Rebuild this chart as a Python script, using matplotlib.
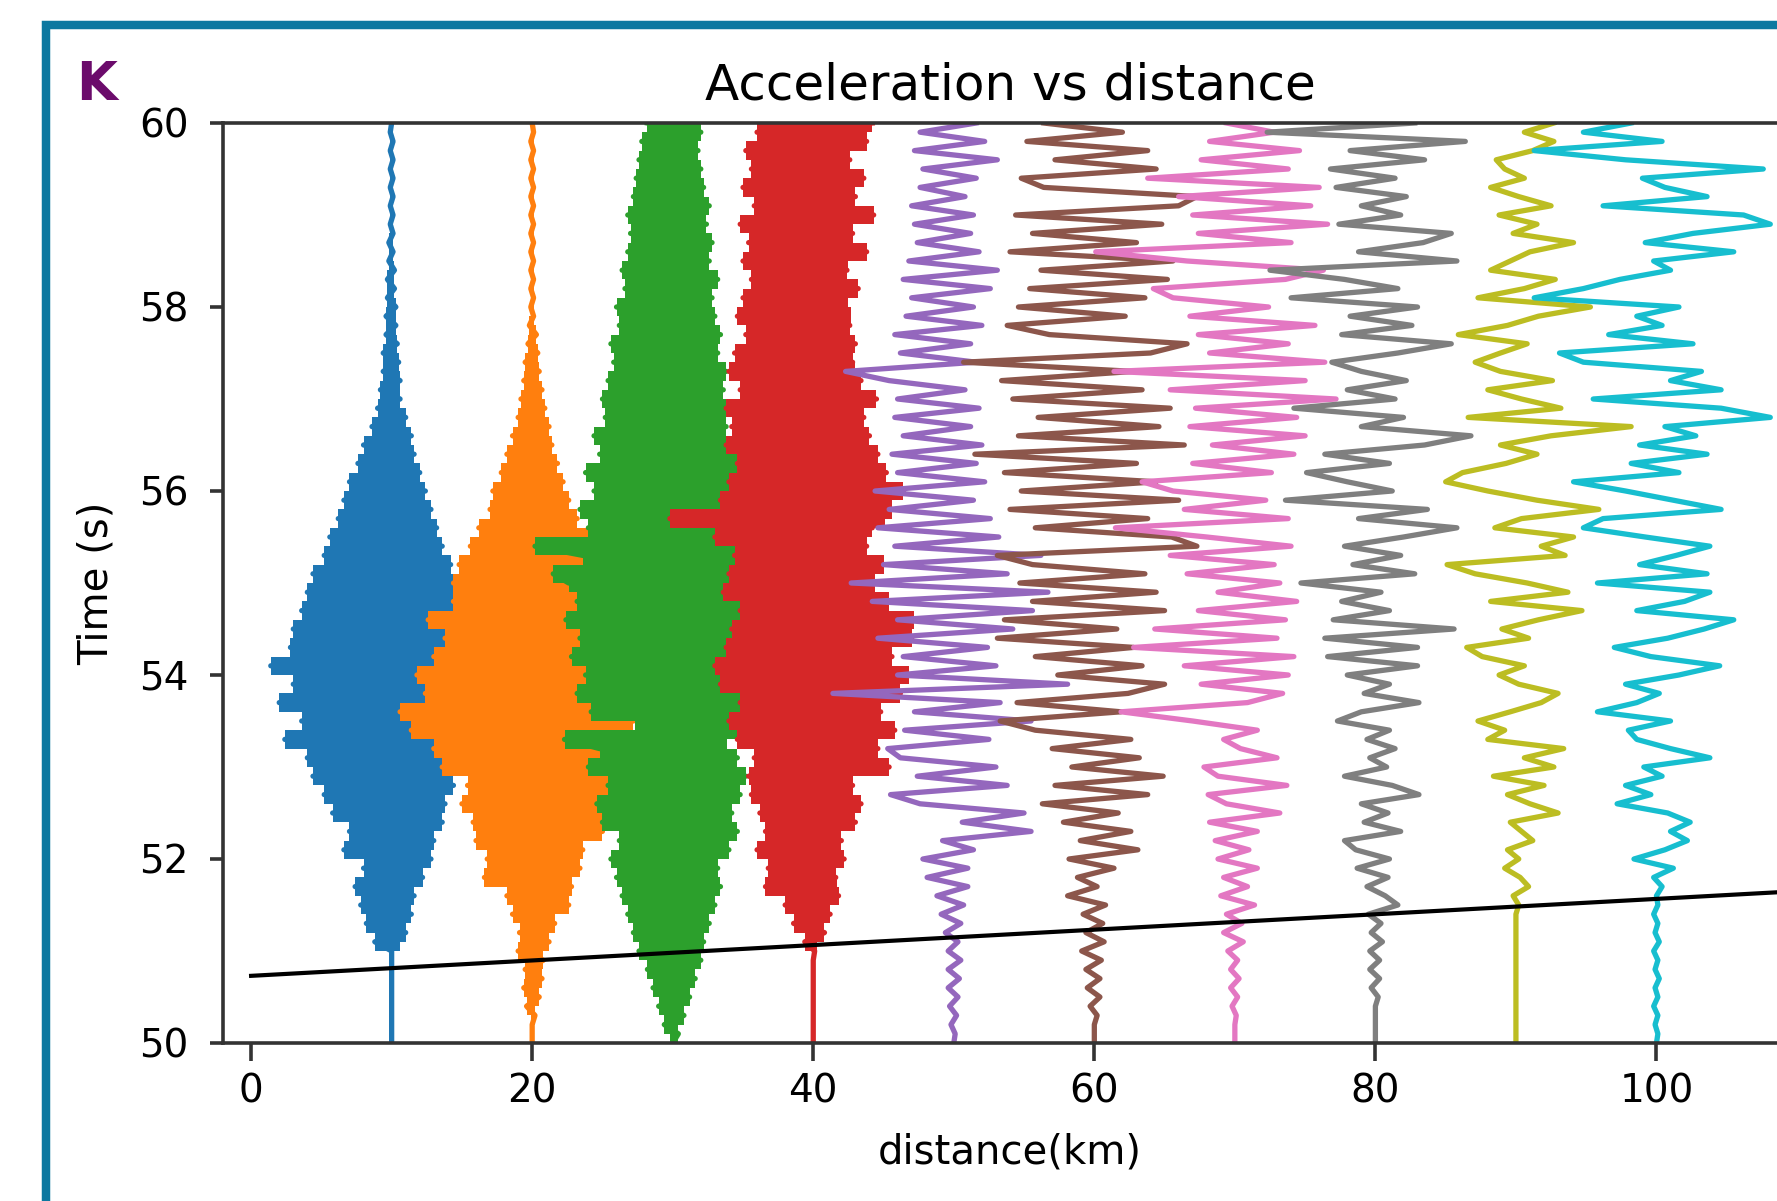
import numpy as np
import matplotlib
matplotlib.use("Agg")
import matplotlib.pyplot as plt
from matplotlib.patches import Rectangle

# station distances (km) and time axis (s), one sample every 0.1 s
distance_km = [10, 20, 30, 40, 50, 60, 70, 80, 90, 100]
time_s = np.round(50.0 + 0.1 * np.arange(101), 1)

acc_10 = [0.0, 0.0, 0.0, 0.0, 0.0, 0.0, 0.0, 0.0, 0.0, 0.0,
          0.0, -1.2, 1.0, -1.8, 1.4, -2.2, 1.6, -2.6, 2.2, -2.0,
          2.8, -3.4, 3.0, -3.0, 3.6, -4.2, 3.8, -4.8, 4.4, -5.6,
          5.2, -6.0, 5.6, -7.6, 6.0, -6.4, 7.4, -8.0, 6.6, -7.0,
          5.8, -8.6, 6.2, -7.2, 5.4, -7.0, 5.6, -6.4, 5.0, -6.0,
          5.0, -5.6, 4.2, -4.8, 3.6, -4.4, 3.2, -3.8, 2.8, -3.4,
          2.4, -3.0, 2.0, -2.4, 1.6, -2.0, 1.4, -1.4, 1.0, -1.0,
          0.6, -0.8, 0.6, -0.6, 0.5, -0.6, 0.4, -0.4, 0.3, -0.4,
          0.3, -0.3, 0.2, -0.3, 0.2, -0.2, 0.1, -0.2, 0.1, -0.1,
          0.1, -0.1, 0.1, -0.1, 0.1, -0.1, 0.1, -0.1, 0.1, -0.1, 0.0]
acc_20 = [0.0, 0.0, 0.0, 0.2, -0.4, 0.5, -0.6, 0.7, -0.5, 0.8,
          -1.0, 1.2, -0.9, 1.6, -1.4, 2.6, -1.8, 2.8, -3.4, 3.4,
          -3.2, 3.6, -4.0, 5.0, -4.2, 6.8, -5.0, 5.6, -4.6, 6.2,
          -6.4, 5.4, -7.0, 6.0, -8.6, 7.2, -9.4, 6.4, -7.6, 7.8,
          -8.2, 6.6, -7.0, 7.2, -6.2, 6.0, -7.4, 6.8, -5.6, 5.8,
          -5.6, 6.4, -5.2, 4.6, -4.4, 4.0, -3.8, 3.2, -3.0, 2.6,
          -2.8, 2.2, -2.2, 1.8, -1.8, 1.4, -1.4, 1.2, -1.0, 0.9,
          -0.8, 0.7, -0.6, 0.5, -0.5, 0.4, -0.3, 0.3, -0.2, 0.1,
          -0.1, 0.1, -0.1, 0.1, -0.1, 0.1, -0.1, 0.1, -0.1, 0.1,
          -0.1, 0.1, -0.1, 0.1, -0.1, 0.1, -0.1, 0.1, -0.1, 0.1, 0.0]
acc_30 = [0.0, 0.4, -0.6, 0.8, -1.0, 1.2, -1.4, 1.6, -1.8, 2.0,
          -2.4, 2.2, -2.8, 2.6, -3.2, 3.0, -3.6, 3.4, -4.0, 3.2,
          -4.4, 4.0, -3.8, 4.6, -5.0, 4.2, -5.4, 4.8, -4.6, 5.2,
          -6.0, 4.6, -5.2, -7.7, 5.4, 4.8, -5.8, 5.6, -6.8, 5.0,
          -6.2, 5.8, -7.2, 5.2, -6.6, 6.0, -7.6, 5.4, -6.8, 6.2,
          -7.4, -8.5, 5.0, -6.4, -9.8, 5.8, -6.0, 4.8, -6.6, 5.2,
          -5.6, 4.4, -6.2, 4.6, -5.2, 4.2, -5.6, 3.8, -4.8, 4.4,
          -5.0, 3.6, -4.6, 3.8, -4.2, 3.2, -4.4, 3.4, -3.8, 3.0,
          -4.0, 2.8, -3.4, 3.2, -3.6, 2.6, -3.2, 2.8, -3.0, 2.4,
          -3.2, 2.6, -2.8, 2.2, -2.6, 2.0, -2.4, 1.8, -2.2, 2.0, -1.8]
acc_40 = [0.0, 0.0, 0.0, 0.0, 0.0, 0.0, 0.0, 0.0, 0.0, 0.0,
          0.1, -0.6, 0.8, -1.4, 1.2, -2.0, 1.8, -3.4, 1.6, -3.2,
          2.2, -4.0, 2.0, -3.4, 3.0, -3.8, 3.4, -4.4, 2.8, -4.6,
          5.4, -4.2, 4.6, -5.4, 5.8, -6.0, 4.8, -5.2, 6.2, -6.6,
          6.8, -7.0, 5.6, -6.2, 7.0, -5.8, 7.2, -5.2, 5.4, -6.4,
          4.4, -6.0, 5.0, -5.6, 3.8, -7.0, 4.2, -10.2, 5.6, -6.6,
          6.4, -6.0, 5.2, -5.4, 4.6, -6.2, 4.0, -5.8, 3.6, -6.2,
          4.5, -5.2, 3.4, -6.0, 2.8, -5.6, 3.0, -4.8, 2.6, -5.4,
          2.0, -5.0, 3.2, -4.4, 2.4, -5.0, 3.8, -4.6, 2.8, -5.2,
          4.3, -4.2, 3.0, -5.0, 3.6, -4.4, 2.6, -4.8, 3.8, -4.0, 4.2]
acc_50 = [0.0, 0.1, -0.2, 0.2, -0.3, 0.3, -0.4, 0.4, -0.4, 0.5,
          -0.4, 0.3, -0.6, 0.5, -0.9, 0.7, -1.2, 1.0, -1.9, 1.0,
          -2.2, 1.4, -0.8, 5.5, 0.6, 5.0, -2.4, -4.5, 3.8, -2.6,
          3.0, -3.8, -4.7, 2.5, -3.5, 5.5, -2.8, 3.3, -8.6, 8.1,
          -4.0, 3.0, -3.6, 2.4, -5.4, 4.2, -4.0, 5.6, -5.8, 6.7,
          -7.3, 3.8, -5.0, 6.2, -4.2, 3.2, -5.4, 2.6, -4.6, 1.4,
          -5.6, 2.2, -4.0, 1.6, -4.4, 2.0, -3.6, 1.2, -4.2, 1.8,
          -4.0, 0.8, -4.6, -7.7, 1.6, -3.8, 1.2, -4.2, 2.0, -3.4,
          1.4, -3.0, 2.6, -3.6, 3.1, -3.2, 1.8, -2.6, 1.2, -2.8,
          1.4, -3.0, 0.8, -2.4, 1.6, -2.2, 3.1, -2.8, 2.2, -2.4, 1.6]
acc_60 = [0.0, 0.0, 0.0, 0.2, -0.3, 0.4, -0.5, 0.4, -0.6, 0.5,
          -0.9, 0.7, -0.6, 0.6, -0.8, 0.8, -1.9, 0.2, -1.2, 1.4,
          -1.8, 3.1, -1.0, 2.6, -2.2, 1.7, -3.7, 3.8, -2.8, 4.9,
          -1.6, 3.2, -3.0, 2.6, -4.2, -6.7, 1.9, -5.5, 2.4, 5.0,
          -2.6, 3.4, -4.2, 2.8, -6.9, 1.6, -6.4, 5.0, -4.4, 4.4,
          -5.3, 3.6, -4.4, -6.9, 7.3, 5.5, -4.2, 3.8, -6.0, 6.0,
          -5.2, 4.4, -6.4, 3.0, -8.5, 6.4, -5.4, 4.6, -4.0, 5.4,
          -5.8, 3.4, -6.6, 2.8, -9.3, 4.0, 6.6, -3.2, -6.2, 2.2,
          -5.4, 3.6, -4.6, 5.2, -3.8, 5.6, -6.0, 3.0, -4.4, 4.8,
          -5.6, 6.0, 7.3, -3.6, -5.2, 4.4, -2.8, 3.8, -4.8, 2.0, -3.6]
acc_70 = [0.0, 0.0, 0.0, 0.1, -0.2, 0.2, -0.3, 0.3, -0.3, 0.2,
          -0.5, 0.6, -0.8, 0.5, -0.6, 1.4, -1.0, 0.9, -0.8, 1.6,
          -1.2, 1.0, -1.4, 1.6, -1.8, 3.2, -0.6, -1.9, 3.7, -1.2,
          -2.2, 3.0, 0.4, -0.8, 1.6, -3.0, -8.1, 0.9, 3.4, -2.4,
          3.8, -3.6, 4.2, -7.2, 3.0, -5.7, 3.6, -2.6, 4.4, -1.2,
          3.2, -3.4, 2.8, -4.6, 4.0, -2.0, -8.5, 3.8, -3.6, 2.2,
          -4.4, -6.6, 2.6, -3.0, 4.2, -1.6, 5.0, -3.2, 4.4, -2.8,
          7.2, -4.6, 5.0, -8.6, 6.4, -1.8, 3.8, -2.6, 5.7, -3.2,
          2.4, -4.4, -5.8, 3.6, 6.3, -3.4, -9.9, 4.0, -2.6, 6.6,
          -3.0, 5.4, -4.0, 6.0, -6.2, 3.8, -2.4, 4.6, -1.8, 2.8, -0.6]
acc_80 = [0.0, 0.0, 0.0, 0.0, 0.0, 0.2, -0.3, 0.3, -0.4, 0.3,
          -0.4, 0.5, -0.3, 0.4, -0.5, 1.6, 0.7, -0.6, 0.9, -1.3,
          1.0, -1.4, -2.2, 1.8, -0.8, 0.9, -1.0, 3.1, 1.2, -2.2,
          0.8, -0.4, 1.4, -0.6, 1.0, -2.7, -1.0, 3.1, -0.8, 1.0,
          -2.0, 3.0, -3.4, 3.0, -3.6, 5.6, -3.0, 1.0, -2.4, 0.4,
          -5.3, 2.8, -1.6, 1.8, -2.2, 2.0, 5.8, -1.2, 3.7, -6.4,
          1.2, -2.0, -4.9, 1.0, -3.6, 3.5, 6.8, -1.0, 2.0, -5.8,
          1.4, -2.0, 2.2, -1.0, -3.1, 1.6, 5.4, -2.4, 2.6, -1.8,
          3.0, -6.0, 1.6, -2.2, -7.5, 5.8, -1.2, 3.4, 5.4, -2.6,
          1.8, -1.0, 2.2, -2.8, 1.4, -3.2, 3.5, -1.8, 6.4, -7.7, 2.8]
acc_90 = [0.0, 0.0, 0.0, 0.0, 0.0, 0.0, 0.0, 0.0, 0.0, 0.0,
          0.0, 0.0, 0.0, 0.0, 0.0, 0.2, -0.2, 0.9, 0.3, -0.8,
          0.2, -0.6, 1.2, 0.4, -0.4, 3.0, 1.0, -0.6, 2.0, -1.6,
          2.7, 0.6, 3.4, -2.0, -0.8, -2.7, -0.4, 1.8, 3.0, 0.2,
          -1.2, 0.6, -2.4, -3.5, 0.9, -1.0, 1.6, 4.7, -1.8, 3.7,
          0.8, -2.9, -4.9, 3.5, 1.8, 4.1, -1.5, 0.4, 5.9, 1.5,
          -2.0, -5.0, -3.8, -0.7, 1.5, -1.1, 2.5, 8.2, -3.4, 3.2,
          0.4, -2.0, 2.6, -1.1, -2.9, -1.1, 0.8, -4.1, -0.6, 1.6,
          5.3, -2.7, 0.6, 2.8, -1.8, -0.4, 1.0, 4.1, -0.2, 1.5,
          -1.2, 2.5, 0.2, -1.8, 0.6, -0.8, -1.4, 1.2, 2.7, 0.6, 2.7]
acc_100 = [0.0, 0.1, -0.1, 0.1, -0.2, 0.1, -0.1, 0.2, -0.1, 0.1,
           -0.2, 0.2, -0.1, 0.1, -0.2, 0.1, 0.0, 0.4, -0.2, 1.2,
           -1.6, 0.6, 2.2, 1.0, 2.4, 0.8, -2.8, -0.4, -2.2, 0.4,
           -0.9, 3.8, 1.0, -1.4, -2.0, 1.0, -4.2, -1.4, 0.2, -2.2,
           1.6, 4.5, -0.4, -3.0, 0.8, 3.4, 5.5, -1.4, 2.0, 3.8,
           -4.2, 3.6, -1.2, 1.4, 3.8, -0.8, -5.2, -3.8, 4.6, 1.2,
           -2.2, -5.9, 1.6, -1.8, 3.6, -1.2, 2.8, 0.6, 8.1, 4.6,
           -4.5, 4.6, 1.0, 3.2, -5.2, -6.9, 2.6, -3.4, 0.4, -1.4,
           1.6, -8.7, -5.2, -2.6, 1.0, -0.2, 5.5, -0.8, 2.6, 8.1,
           6.2, -3.8, 3.6, 0.6, -1.0, 7.6, -2.2, -8.7, 0.4, -5.2, -1.8]

# first-arrival line
arrival_km = [0, 110]
arrival_s = [50.73, 51.65]

colors = ['#1f77b4', '#ff7f0e', '#2ca02c', '#d62728', '#9467bd',
          '#8c564b', '#e377c2', '#7f7f7f', '#bcbd22', '#17becf']


def main():
    W, H = 1777, 1201
    fig = plt.figure(figsize=(W / 100, H / 100), dpi=100)
    # axes runs past the right edge of the picture, as in the cropped original
    ax = fig.add_axes([223 / W, 158 / H, 1574 / W, 920 / H])

    traces = [acc_10, acc_20, acc_30, acc_40, acc_50,
              acc_60, acc_70, acc_80, acc_90, acc_100]
    for k, (d, off) in enumerate(zip(distance_km, traces)):
        off = np.asarray(off)
        z = 2 + 0.1 * k
        if d <= 40:
            # near stations: the swings are packed so tight they read as solid bars
            nxt = np.append(off[1:], off[-1])
            r = 0.5 * np.maximum(np.abs(off), np.abs(nxt))
            lo = np.minimum(np.minimum(off, nxt), -r)
            hi = np.maximum(np.maximum(off, nxt), r)
            ax.fill_betweenx(time_s, d + lo, d + hi, step='post',
                             color=colors[k], lw=0, zorder=z)
        ax.plot(d + off, time_s, color=colors[k], lw=3.8, zorder=z + 0.05)

    ax.plot(arrival_km, arrival_s, color='k', lw=3, zorder=4)

    ax.set_xlim(-2, 110)
    ax.set_ylim(50, 60)
    ax.set_xticks([0, 20, 40, 60, 80, 100])
    ax.set_yticks([50, 52, 54, 56, 58, 60])
    for s in ax.spines.values():
        s.set_linewidth(2.6)
        s.set_color('#333333')
        s.set_zorder(5)
    ax.tick_params(axis='x', length=12.7, width=2.6, pad=8.6, labelsize=28, color='#333333')
    ax.tick_params(axis='y', length=9.6, width=2.6, pad=15, labelsize=28, color='#333333')

    ax.set_title('Acceleration vs distance', fontsize=36, pad=16.8)
    ax.set_xlabel('distance(km)', fontsize=29)
    ax.xaxis.set_label_coords(0.5, -0.0978)
    ax.set_ylabel('Time (s)', fontsize=29)
    ax.yaxis.set_label_coords(-0.0674, 0.5)

    # panel frame and letter
    fig.add_artist(Rectangle((45.5 / W, -0.5), 5, 0.5 + 1 - 25 / H, transform=fig.transFigure,
                             fill=False, edgecolor='#0c78a0', linewidth=6.1))
    fig.text(76 / W, 1 - 100 / H, 'K', fontsize=38, fontweight='bold',
             color='#6b0b6b', ha='left', va='baseline')

    fig.savefig('out.png', dpi=100)


if __name__ == '__main__':
    main()
